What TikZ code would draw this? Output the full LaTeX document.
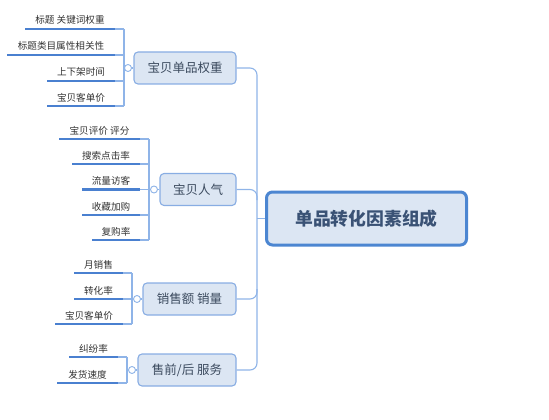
\documentclass[tikz,border=0pt]{standalone}
\usepackage{fontspec}
\newfontfamily\cjk{Noto Sans CJK SC}
\definecolor{nodefill}{HTML}{DCE6F3}
\definecolor{nodeedge}{HTML}{88ADE3}
\definecolor{mainedge}{HTML}{4C86D1}
\definecolor{uline}{HTML}{4A80D0}
\definecolor{connc}{HTML}{8FB4E8}
\definecolor{txt}{HTML}{333333}
\definecolor{ntxt}{HTML}{3B4A5E}
\definecolor{mtxt}{HTML}{3A5275}
\tikzset{
  branch/.style={draw=nodeedge, line width=1.1pt, fill=nodefill, rounded corners=4pt,
    minimum height=32pt, inner sep=0pt, text=ntxt, font=\cjk\fontsize{12.5}{14}\selectfont},
  mainbox/.style={draw=mainedge, line width=3pt, fill=nodefill, rounded corners=6pt,
    minimum width=200pt, minimum height=53pt, text=mtxt, font=\cjk\bfseries\fontsize{17.8}{20}\selectfont},
  leaf/.style={inner sep=0pt, anchor=base, text=txt, font=\cjk\fontsize{9.6}{11}\selectfont},
  ul/.style={draw=uline, line width=2.5pt},
  conn/.style={draw=connc, line width=1.1pt},
  knob/.style={circle, draw=connc, line width=0.9pt, fill=white, minimum size=7pt, inner sep=0pt},
}
\begin{document}
\begin{tikzpicture}[x=1pt,y=-1pt]
\useasboundingbox (0,0) rectangle (549,420);
% main
\node[mainbox] (main) at (366.5,218.5) {单品转化因素组成};
% branches
\node[branch, minimum width=102pt] (b1) at (185,68) {宝贝单品权重};
\node[branch, minimum width=76pt] (b2) at (198,189.5) {宝贝人气};
\node[branch, minimum width=93pt] (b3) at (189.5,299) {销售额 销量};
\node[branch, minimum width=98pt] (b4) at (187,370) {售前/后 服务};
% trunk
\coordinate (t1) at (257,68);
\coordinate (t4) at (257,370);
\coordinate (t2) at (257,189.5);
\coordinate (t2d) at (257,200);
\coordinate (t3) at (257,299);
\coordinate (t3u) at (257,289);
\coordinate (tm) at (257,218.5);
\draw[conn, rounded corners=7pt] (b1.east) -- (t1) -- (t4) -- (b4.east);
\draw[conn, rounded corners=7pt] (b2.east) -- (t2) -- (t2d);
\draw[conn, rounded corners=7pt] (b3.east) -- (t3) -- (t3u);
\draw[conn] (tm) -- (main.west);

% ---------- branch 1 leaves ----------
\coordinate (k1a) at (124,29);
\coordinate (k1d) at (124,106);
\draw[conn] (k1a) -- (k1d);
\node[knob] (c1) at (128,68) {};
\draw[conn] (124,68) -- (c1.west);
\draw[conn] (c1.east) -- (b1.west);
\foreach \y/\s/\t in {29/25/标题 关键词权重, 55/7/标题类目属性相关性, 81/47/上下架时间, 106/47/宝贝客单价}{
  \draw[ul] (\s,\y) -- (115,\y);
  \draw[conn] (115,\y) -- (124,\y);
  \node[leaf] at ({(\s+115)/2},\y-5) {\t};
}
% ---------- branch 2 leaves ----------
\coordinate (k2a) at (149,139);
\coordinate (k2d) at (149,240);
\draw[conn] (k2a) -- (k2d);
\node[knob] (c2) at (154,189.5) {};
\draw[conn] (c2.east) -- (b2.west);
\foreach \y/\s/\t in {139/59/宝贝评价 评分, 164/72/搜索点击率, 189.5/82/流量访客, 215/82/收藏加购, 240/92/复购率}{
  \draw[ul] (\s,\y) -- (140,\y);
  \draw[conn] (140,\y) -- (149,\y);
  \node[leaf] at ({(\s+140)/2},\y-5) {\t};
}
% ---------- branch 3 leaves ----------
\coordinate (k3a) at (132,273);
\coordinate (k3d) at (132,324);
\draw[conn] (k3a) -- (k3d);
\node[knob] (c3) at (137,299) {};
\draw[conn] (c3.east) -- (b3.west);
\foreach \y/\s/\t in {273/74/月销售, 299/74/转化率, 324/55/宝贝客单价}{
  \draw[ul] (\s,\y) -- (123,\y);
  \draw[conn] (123,\y) -- (132,\y);
  \node[leaf] at ({(\s+123)/2},\y-5) {\t};
}
% ---------- branch 4 leaves ----------
\coordinate (k4a) at (127,357);
\coordinate (k4d) at (127,383);
\draw[conn] (k4a) -- (k4d);
\node[knob] (c4) at (132,370) {};
\draw[conn] (c4.east) -- (b4.west);
\foreach \y/\s/\t in {357/69/纠纷率, 383/57/发货速度}{
  \draw[ul] (\s,\y) -- (118,\y);
  \draw[conn] (118,\y) -- (127,\y);
  \node[leaf] at ({(\s+118)/2},\y-5) {\t};
}
\end{tikzpicture}
\end{document}
